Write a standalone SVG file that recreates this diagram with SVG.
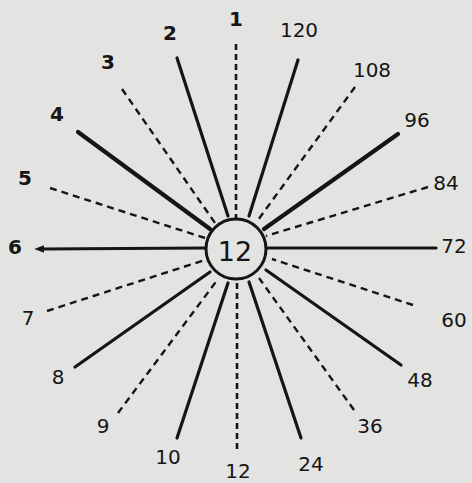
<svg xmlns="http://www.w3.org/2000/svg" width="472" height="483" viewBox="0 0 472 483">
<style>
.bg{fill:#e3e3e1}
.s{stroke:#151515;stroke-width:3.2;stroke-linecap:round;fill:none}
.t{stroke-width:4.2}
.d{stroke:#151515;stroke-width:2.4;stroke-dasharray:7 5;fill:none}
.v{stroke:#151515;stroke-width:2.6;stroke-dasharray:6 4;fill:none}
.lb{font-family:"DejaVu Sans","Liberation Sans",sans-serif;font-size:20px;fill:#151515;text-anchor:middle;dominant-baseline:central}
.b{font-weight:bold}
.c{fill:#e3e3e1;stroke:#151515;stroke-width:3}
</style>
<defs>
<marker id="tip" viewBox="0 0 10 10" refX="2" refY="5" markerWidth="3" markerHeight="3" orient="auto-start-reverse">
<path d="M0,1 L10,5 L0,9 z" fill="#151515"/>
</marker>
</defs>
<rect class="bg" x="0" y="0" width="472" height="483"/>
<g id="connectors">
<line class="v" x1="236" y1="44" x2="236" y2="218"/>
<line class="s" x1="177" y1="58" x2="228" y2="216"/>
<line class="d" x1="122" y1="89" x2="215" y2="223"/>
<line class="s t" x1="78" y1="132" x2="210" y2="229"/>
<line class="d" x1="50" y1="188" x2="205" y2="238"/>
<line class="s" x1="42" y1="249" x2="205" y2="248" marker-start="url(#tip)"/>
<line class="d" x1="47" y1="311" x2="205" y2="260"/>
<line class="s" x1="75" y1="367" x2="210" y2="272"/>
<line class="d" x1="118" y1="413" x2="218" y2="279"/>
<line class="s" x1="177" y1="438" x2="228" y2="283"/>
<line class="v" x1="237" y1="283" x2="237" y2="452"/>
<line class="s" x1="301" y1="438" x2="249" y2="282"/>
<line class="d" x1="354" y1="410" x2="259" y2="278"/>
<line class="s" x1="401" y1="365" x2="266" y2="270"/>
<line class="d" x1="413" y1="305" x2="272" y2="259"/>
<line class="s" x1="436" y1="248" x2="268" y2="248"/>
<line class="d" x1="428" y1="187" x2="266" y2="236"/>
<line class="s t" x1="398" y1="134" x2="264" y2="229"/>
<line class="d" x1="355" y1="87" x2="258" y2="220"/>
<line class="s" x1="298" y1="60" x2="249" y2="216"/>
</g>
<g id="center"><circle class="c" cx="236" cy="249" r="30"/><text class="lb" x="235" y="251" style="font-size:27px">12</text></g>
<g id="n1"><text class="lb b" x="236" y="19">1</text></g>
<g id="n2"><text class="lb b" x="170" y="33">2</text></g>
<g id="n3"><text class="lb b" x="108" y="62">3</text></g>
<g id="n4"><text class="lb b" x="57" y="114">4</text></g>
<g id="n5"><text class="lb b" x="25" y="178">5</text></g>
<g id="n6"><text class="lb b" x="15" y="247">6</text></g>
<g id="n7"><text class="lb" x="28" y="318">7</text></g>
<g id="n8"><text class="lb" x="58" y="377">8</text></g>
<g id="n9"><text class="lb" x="103" y="426">9</text></g>
<g id="n10"><text class="lb" x="168" y="457">10</text></g>
<g id="n12"><text class="lb" x="238" y="471">12</text></g>
<g id="n24"><text class="lb" x="311" y="464">24</text></g>
<g id="n36"><text class="lb" x="370" y="426">36</text></g>
<g id="n48"><text class="lb" x="420" y="380">48</text></g>
<g id="n60"><text class="lb" x="454" y="320">60</text></g>
<g id="n72"><text class="lb" x="454" y="246">72</text></g>
<g id="n84"><text class="lb" x="446" y="183">84</text></g>
<g id="n96"><text class="lb" x="417" y="120">96</text></g>
<g id="n108"><text class="lb" x="372" y="70">108</text></g>
<g id="n120"><text class="lb" x="299" y="30">120</text></g>
</svg>
